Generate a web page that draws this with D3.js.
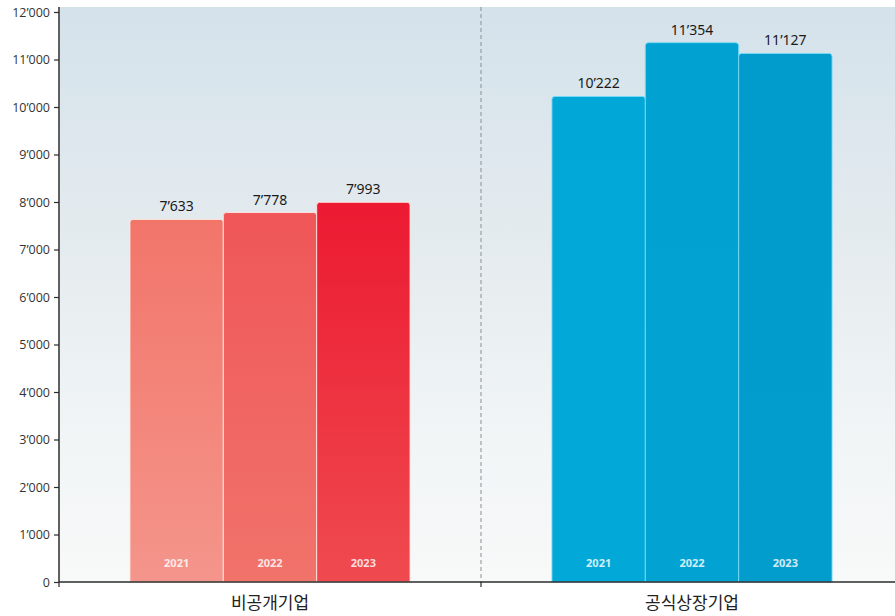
<!DOCTYPE html>
<html>
<head>
<meta charset="utf-8">
<script src="https://cdn.jsdelivr.net/npm/d3@7"></script>
<style>
  html, body { margin: 0; padding: 0; background: #fff; }
  svg { display: block; font-family: "Noto Sans", "Noto Sans CJK KR", sans-serif; }
</style>
</head>
<body>
<svg id="chart" width="895" height="616"></svg>
<script>
// Company groups and reporting years
const categories = ["비공개기업", "공식상장기업"];
const years = ["2021", "2022", "2023"];
const privateValues = [7633, 7778, 7993];
const listedValues = [10222, 11354, 11127];
const yTicks = [0, 1000, 2000, 3000, 4000, 5000, 6000, 7000, 8000, 9000, 10000, 11000, 12000];

// Bar fills per group and year: [top, bottom]
const privateColors = [["#f2756a", "#f4958b"], ["#ef5658", "#f1736a"], ["#ec1a32", "#ef4a4f"]];
const listedColors = [["#01a7d7", "#02a9d8"], ["#01a1d2", "#02a3d3"], ["#019bcc", "#029dcd"]];

const seriesByCategory = [privateValues, listedValues];
const colorsByCategory = [privateColors, listedColors];

const svg = d3.select("#chart");
const W = 895, H = 616;
const plotLeft = 59, plotTop = 7, plotBottom = 582, plotRight = 903;

const y = d3.scaleLinear().domain([0, 12000]).range([plotBottom, 12]);
const x0 = d3.scaleBand().domain(categories).range([plotLeft, plotRight]).padding(0);
const x1 = d3.scaleBand().domain(years).range([0, x0.bandwidth()])
  .paddingInner(0).paddingOuter(0.76);

const defs = svg.append("defs");
const bg = defs.append("linearGradient").attr("id", "bg")
  .attr("x1", 0).attr("y1", 0).attr("x2", 0).attr("y2", 1);
bg.append("stop").attr("offset", "0%").attr("stop-color", "#d4e2eb");
bg.append("stop").attr("offset", "45%").attr("stop-color", "#e6ecef");
bg.append("stop").attr("offset", "75%").attr("stop-color", "#f1f5f6");
bg.append("stop").attr("offset", "100%").attr("stop-color", "#f8f9f9");

colorsByCategory.forEach((cols, ci) => {
  cols.forEach((c, yi) => {
    const g = defs.append("linearGradient").attr("id", `bar-${ci}-${yi}`)
      .attr("x1", 0).attr("y1", 0).attr("x2", 0).attr("y2", 1);
    g.append("stop").attr("offset", "0%").attr("stop-color", c[0]);
    g.append("stop").attr("offset", "100%").attr("stop-color", c[1]);
  });
});

// plot background
svg.append("rect")
  .attr("x", plotLeft + 1).attr("y", plotTop)
  .attr("width", W - plotLeft - 1).attr("height", plotBottom - plotTop)
  .attr("fill", "url(#bg)");

// dashed divider between groups
const divX = x0(categories[1]);
svg.append("line")
  .attr("x1", divX).attr("x2", divX)
  .attr("y1", plotTop).attr("y2", plotBottom)
  .attr("stroke", "#8a8f94").attr("stroke-width", 1)
  .attr("stroke-dasharray", "4,3");

const fmt = v => d3.format(",")(v).replace(/,/g, "’");

// bars
function roundedTop(x, yTop, w, h, r) {
  return `M${x},${yTop + h}V${yTop + r}Q${x},${yTop} ${x + r},${yTop}` +
    `H${x + w - r}Q${x + w},${yTop} ${x + w},${yTop + r}V${yTop + h}Z`;
}

categories.forEach((cat, ci) => {
  const g = svg.append("g").attr("transform", `translate(${x0(cat)},0)`);
  const data = years.map((yr, i) => ({ yr, v: seriesByCategory[ci][i], i }));
  g.selectAll("path.bar").data(data).join("path")
    .attr("class", "bar")
    .attr("d", d => roundedTop(x1(d.yr), y(d.v), x1.bandwidth(), plotBottom - y(d.v), 3))
    .attr("fill", d => `url(#bar-${ci}-${d.i})`)
    .attr("stroke", ci === 0 ? "rgba(255,235,230,0.85)" : "rgba(120,220,245,0.9)")
    .attr("stroke-width", 1);

  g.selectAll("text.val").data(data).join("text")
    .attr("class", "val")
    .attr("x", d => x1(d.yr) + x1.bandwidth() / 2)
    .attr("y", d => y(d.v) - 8)
    .attr("text-anchor", "middle")
    .attr("font-size", 14)
    .attr("fill", "#1a1a1a")
    .text(d => fmt(d.v));

  g.selectAll("text.yr").data(data).join("text")
    .attr("class", "yr")
    .attr("x", d => x1(d.yr) + x1.bandwidth() / 2)
    .attr("y", 567)
    .attr("text-anchor", "middle")
    .attr("font-size", 11)
    .attr("font-weight", "bold")
    .attr("fill", "rgba(255,255,255,0.82)")
    .text(d => d.yr);
});

// y axis
const yAxis = d3.axisLeft(y).tickValues(yTicks).tickSize(5).tickPadding(4)
  .tickFormat(d => fmt(d));
const ya = svg.append("g").attr("transform", `translate(${plotLeft},0)`).call(yAxis);
ya.select(".domain").attr("d", `M0,${plotTop}V${plotBottom}`).attr("stroke", "#2b2b2b").attr("stroke-width", 1.5);
ya.selectAll(".tick line").attr("stroke", "#2b2b2b").attr("stroke-width", 1.2);
ya.selectAll(".tick text").attr("font-size", 12.5).attr("fill", "#333")
  .attr("font-family", "\"Open Sans\", \"Noto Sans\", sans-serif");

// x axis
const xa = svg.append("g").attr("transform", `translate(0,${plotBottom})`);
xa.append("line").attr("x1", plotLeft).attr("x2", W).attr("y1", 0).attr("y2", 0)
  .attr("stroke", "#2b2b2b").attr("stroke-width", 1.5);
xa.selectAll("line.tick").data(categories).join("line")
  .attr("class", "tick")
  .attr("x1", d => x0(d)).attr("x2", d => x0(d))
  .attr("y1", 0).attr("y2", 5)
  .attr("stroke", "#2b2b2b").attr("stroke-width", 1.2);
xa.selectAll("text.cat").data(categories).join("text")
  .attr("class", "cat")
  .attr("x", d => x0(d) + x0.bandwidth() / 2)
  .attr("y", 27)
  .attr("text-anchor", "middle")
  .attr("font-size", 17)
  .attr("fill", "#222")
  .attr("font-family", "\"Noto Sans CJK KR\", sans-serif")
  .text(d => d);
</script>
</body>
</html>
